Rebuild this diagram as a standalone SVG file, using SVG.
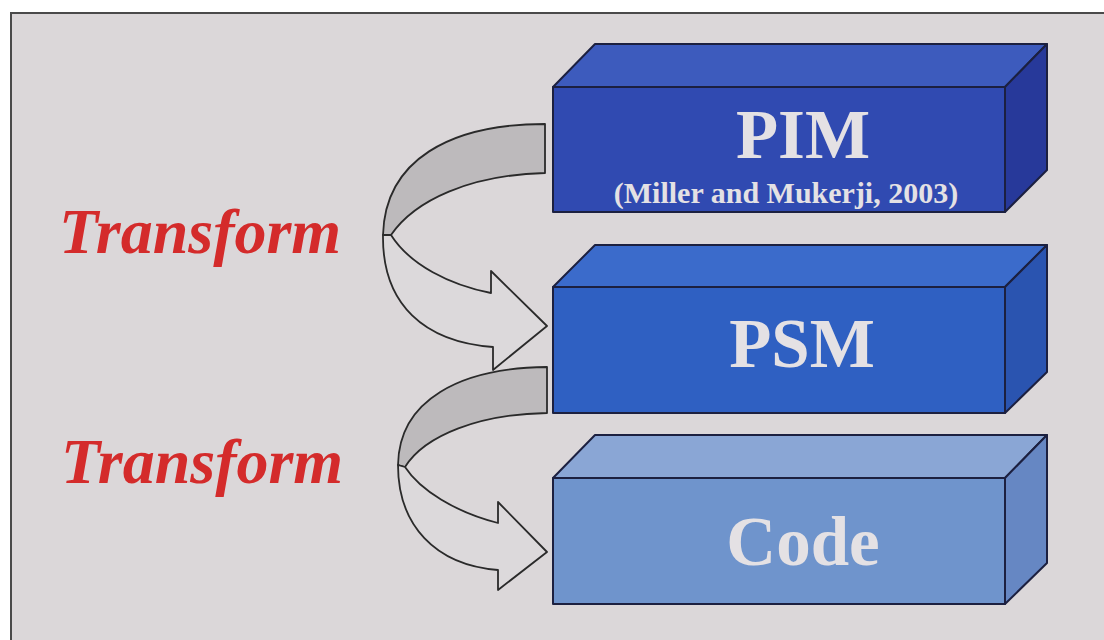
<svg xmlns="http://www.w3.org/2000/svg" width="1104" height="640" viewBox="0 0 1104 640">
  <style>
    .edge { stroke: #1c2040; stroke-width: 2; stroke-linejoin: round; }
    .title { font-family: "Liberation Serif", "Times New Roman", serif; font-weight: bold; fill: #e4e1e4; text-anchor: middle; }
    .xf { font-family: "Liberation Serif", "Times New Roman", serif; font-weight: bold; font-style: italic; fill: #d42b2b; font-size: 64px; }
    .band { stroke: #2a2a2a; stroke-width: 1.8; stroke-linejoin: round; }
    .dark { fill: #bdbabc; }
    .light { fill: #dcd9db; }
  </style>
  <rect x="0" y="0" width="1104" height="640" fill="#ffffff"/>
  <rect x="11" y="13" width="1100" height="640" fill="#dbd7d9" stroke="#4a4a4a" stroke-width="2"/>

  <g id="label-transform-1"><text class="xf" x="59" y="253">Transform</text></g>
  <g id="label-transform-2"><text class="xf" x="61" y="483">Transform</text></g>

  <g id="connectors">
    <g id="arrow-psm-code">
      <path class="band dark" d="M547,367 C460,368 399,400 398,465 L405,467 C425,435 480,414 547,413 Z"/>
      <path class="band light" d="M405,467 C420,490 455,512 498,523 L498,502 L547,552 L498,590 L498,570 C435,565 398,525 398,465 Z"/>
    </g>
    <g id="arrow-pim-psm">
      <path class="band dark" d="M545,124 C450,124 385,160 383,235 L391,235 C415,200 470,175 545,173 Z"/>
      <path class="band light" d="M391,235 C410,265 450,285 491,293 L491,271 L547,326 L493,370 L493,347 C425,342 382,305 383,235 Z"/>
    </g>
  </g>

  <g id="node-pim">
    <polygon class="edge" fill="#3d5bbd" points="553,87 595,44 1047,44 1005,87"/>
    <polygon class="edge" fill="#27399a" points="1005,87 1047,44 1047,170 1005,212"/>
    <rect class="edge" fill="#304ab1" x="553" y="87" width="452" height="125"/>
    <text class="title" x="803" y="158" font-size="69">PIM</text>
    <text class="title" x="786" y="203" font-size="30">(Miller and Mukerji, 2003)</text>
  </g>

  <g id="node-psm">
    <polygon class="edge" fill="#3b6bcb" points="553,287 595,245 1047,245 1005,287"/>
    <polygon class="edge" fill="#2a54b0" points="1005,287 1047,245 1047,372 1005,413"/>
    <rect class="edge" fill="#2f60c2" x="553" y="287" width="452" height="126"/>
    <text class="title" x="802" y="367" font-size="69">PSM</text>
  </g>

  <g id="node-code">
    <polygon class="edge" fill="#8aa6d5" points="553,478 595,435 1047,435 1005,478"/>
    <polygon class="edge" fill="#6687c3" points="1005,478 1047,435 1047,563 1005,604"/>
    <rect class="edge" fill="#6f94cc" x="553" y="478" width="452" height="126"/>
    <text class="title" x="803" y="565" font-size="69">Code</text>
  </g>
</svg>
